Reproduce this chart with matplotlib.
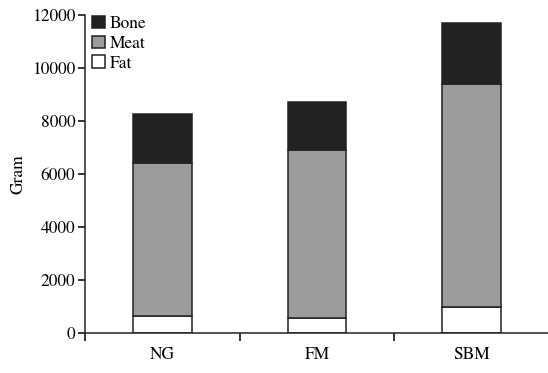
import matplotlib
matplotlib.use('Agg')
import matplotlib.pyplot as plt
import numpy as np

plt.rcParams['font.family'] = ['TeX Gyre Termes', 'Liberation Serif', 'DejaVu Serif']

# data
groups = ['NG', 'FM', 'SBM']
fat = [650, 550, 1000]
meat = [5750, 6350, 8400]
bone = [1850, 1800, 2300]

fig = plt.figure(figsize=(5.48, 3.73), dpi=100)
ax = fig.add_axes([0.155, 0.107, 0.847, 0.854])

x = np.arange(len(groups))
w = 0.38
edge = '#222222'
lw = 1.1

fat_b = np.zeros(3)
meat_b = np.array(fat)
bone_b = meat_b + np.array(meat)

ax.bar(x, fat, w, bottom=fat_b, color='white', edgecolor=edge, linewidth=lw, label='Fat')
ax.bar(x, meat, w, bottom=meat_b, color='#9a9b9d', edgecolor=edge, linewidth=lw, label='Meat')
ax.bar(x, bone, w, bottom=bone_b, color='#222222', edgecolor=edge, linewidth=lw, label='Bone')

ax.set_xlim(-0.5, 2.5)
ax.set_ylim(0, 12000)
ax.set_yticks(range(0, 12001, 2000))
ax.set_ylabel('Gram', fontsize=12.5, labelpad=4)

# category ticks sit between the groups, labels centered on the bars
ax.set_xticks([-0.5, 0.5, 1.5, 2.5])
ax.set_xticklabels([])
ax.set_xticks(x, minor=True)
ax.set_xticklabels(groups, minor=True, fontsize=12.5)
ax.tick_params(axis='x', which='minor', length=0, pad=10)
ax.tick_params(axis='x', which='major', length=6, width=1.1, direction='out')
ax.tick_params(axis='y', length=5, width=1.1, labelsize=12.5, pad=2)

for s in ['top', 'right']:
    ax.spines[s].set_visible(False)
for s in ['left', 'bottom']:
    ax.spines[s].set_linewidth(1.1)
    ax.spines[s].set_color('#222222')

h, l = ax.get_legend_handles_labels()
ax.legend(h[::-1], l[::-1], loc='upper left', bbox_to_anchor=(-0.015, 1.04),
          frameon=False, fontsize=12.5, handlelength=0.75, handleheight=0.75,
          handletextpad=0.3, labelspacing=0.2, borderpad=0.3)

fig.savefig('out.png', dpi=100)
